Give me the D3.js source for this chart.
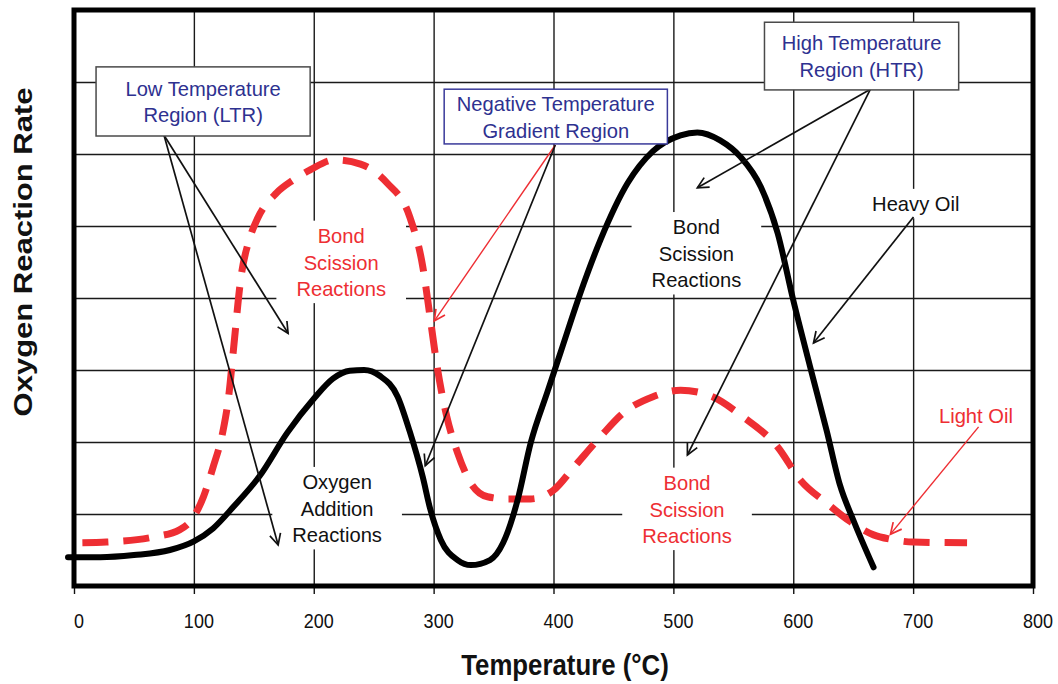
<!DOCTYPE html>
<html>
<head>
<meta charset="utf-8">
<script src="https://cdn.jsdelivr.net/npm/d3@7"></script>
<style>
  body { margin: 0; background: #fff; }
  svg { display: block; font-family: Arial, "Liberation Sans", sans-serif; }
</style>
</head>
<body>
<svg width="1058" height="684"></svg>
<script>
// axis values
var xTicks = [0, 100, 200, 300, 400, 500, 600, 700, 800];
var yGrid = [1, 2, 3, 4, 5, 6, 7];
var xTitle = 'Temperature (°C)';
var yTitle = 'Oxygen Reaction Rate';

// heavy oil curve (solid black)
var heavyTemp = [-5, 22, 50, 80, 100, 116, 133, 155, 178, 200, 216, 230, 242, 255, 270, 280, 291, 297, 306, 320, 331,
  347, 358, 370, 381, 395, 406, 422, 439, 462, 483, 506, 520, 539, 556, 573, 587, 600, 614, 628, 639, 650, 667];
var heavyRate = [0.40, 0.40, 0.43, 0.50, 0.62, 0.80, 1.10, 1.53, 2.13, 2.60, 2.88, 2.99, 3.00, 2.92, 2.63, 2.15, 1.51, 1.08, 0.64, 0.36, 0.29,
  0.36, 0.60, 1.19, 1.99, 2.70, 3.25, 4.05, 4.80, 5.60, 6.04, 6.26, 6.30, 6.19, 5.96, 5.54, 4.90, 3.97, 3.05, 2.15, 1.40, 0.92, 0.26];

// light oil curve (dashed red)
var lightTemp = [7, 27, 66, 88, 99, 108, 116, 124, 129, 133, 139, 147, 153, 169, 183, 197, 218, 239, 261, 280, 291, 297,
  303, 311, 320, 331, 345, 361, 381, 400, 417, 439, 458, 483, 506, 531, 558, 587, 606, 628, 648, 667, 681, 700, 745];
var lightRate = [0.60, 0.61, 0.68, 0.78, 0.94, 1.24, 1.65, 2.13, 2.63, 3.28, 4.25, 4.85, 5.10, 5.46, 5.64, 5.78, 5.92, 5.86, 5.60, 5.13, 4.43, 3.74,
  3.04, 2.35, 1.85, 1.43, 1.24, 1.21, 1.21, 1.33, 1.65, 2.07, 2.40, 2.63, 2.72, 2.64, 2.35, 1.93, 1.47, 1.15, 0.89, 0.71, 0.65, 0.61, 0.60];

// annotations, placed in data units
var boxes = [
  {lines: ['Low Temperature', 'Region (LTR)'], t0: 18.4, t1: 197, r0: 6.25, r1: 7.21, stroke: '#4a4a4a'},
  {lines: ['Negative Temperature', 'Gradient Region'], t0: 308.8, t1: 495, r0: 6.14, r1: 6.90, stroke: '#3a3a9a'},
  {lines: ['High Temperature', 'Region (HTR)'], t0: 576, t1: 738, r0: 6.89, r1: 7.83, stroke: '#4a4a4a'}
];
var notes = [
  {lines: ['Bond', 'Scission', 'Reactions'], t: 222.9, r: 4.50, color: '#ee2e33'},
  {lines: ['Bond', 'Scission', 'Reactions'], t: 519.2, r: 4.62, color: '#111'},
  {lines: ['Bond', 'Scission', 'Reactions'], t: 511.4, r: 1.07, color: '#ee2e33'},
  {lines: ['Oxygen', 'Addition', 'Reactions'], t: 219.5, r: 1.08, color: '#111'},
  {lines: ['Heavy Oil'], t: 702.2, r: 5.31, color: '#111'},
  {lines: ['Light Oil'], t: 752.4, r: 2.375, color: '#ee2e33'}
];
var arrows = [
  {from: [75.1, 6.26], to: [178.6, 3.51], color: 'black'},
  {from: [75.1, 6.26], to: [170.3, 0.57], color: 'black'},
  {from: [401.5, 6.125], to: [300.5, 3.68], color: 'red'},
  {from: [401.5, 6.125], to: [293, 1.67], color: 'black'},
  {from: [664.4, 6.90], to: [520, 5.53], color: 'black'},
  {from: [664.4, 6.90], to: [511.7, 1.82], color: 'black'},
  {from: [700.3, 5.125], to: [616.9, 3.375], color: 'black'},
  {from: [754.6, 2.21], to: [681.1, 0.72], color: 'red'}
];

var red = '#ee2e33';
var navy = '#2e3190';

var svg = d3.select('svg');

// scales
var x = d3.scaleLinear().domain([0, 800]).range([74, 1033]);
var y = d3.scaleLinear().domain([0, 8]).range([586, 10]);

var defs = svg.append('defs');
[['black', '#111'], ['red', red]].forEach(function(c) {
  defs.append('marker')
    .attr('id', 'arrow-' + c[0])
    .attr('viewBox', '-13 -7 15 14')
    .attr('refX', 0).attr('refY', 0)
    .attr('markerWidth', 15).attr('markerHeight', 14)
    .attr('markerUnits', 'userSpaceOnUse')
    .attr('orient', 'auto')
    .append('path')
    .attr('d', 'M-11,-5.5L0,0L-11,5.5')
    .attr('fill', 'none')
    .attr('stroke', c[1])
    .attr('stroke-width', 1.7);
});

// grid
svg.append('g')
  .attr('transform', 'translate(0,' + y(0) + ')')
  .call(d3.axisBottom(x).tickValues(xTicks.slice(1, -1)).tickSize(y(8) - y(0)).tickFormat(''))
  .call(function(g) { g.select('.domain').remove(); })
  .selectAll('line').attr('stroke', '#1a1a1a').attr('stroke-width', 1.4);

svg.append('g')
  .attr('transform', 'translate(' + x(0) + ',0)')
  .call(d3.axisLeft(y).tickValues(yGrid).tickSize(x(0) - x(800)).tickFormat(''))
  .call(function(g) { g.select('.domain').remove(); })
  .selectAll('line').attr('stroke', '#1a1a1a').attr('stroke-width', 1.4);

// small ticks under the axis
svg.append('g')
  .attr('transform', 'translate(0,' + y(0) + ')')
  .call(d3.axisBottom(x).tickValues(xTicks).tickSize(8).tickFormat(''))
  .call(function(g) { g.select('.domain').remove(); })
  .selectAll('line').attr('stroke', '#111').attr('stroke-width', 1.4);

// multi line text, squeezed a bit horizontally like the source
function addText(layer, lines, px, py, size, color, k, lead) {
  var g = layer.append('g').attr('transform', 'translate(' + [px, py] + ')');
  var text = g.append('text')
    .attr('transform', 'scale(' + k + ',1)')
    .attr('text-anchor', 'middle')
    .attr('font-size', size)
    .attr('fill', color);
  lines.forEach(function(s, i) {
    text.append('tspan')
      .attr('x', 0)
      .attr('y', (i - (lines.length - 1) / 2) * lead + size * 0.36)
      .text(s);
  });
  return {g: g, text: text};
}

// labels inside the plot, with white patches that break the grid
var labelLayer = svg.append('g');
notes.forEach(function(d) {
  var lab = addText(labelLayer, d.lines, x(d.t), y(d.r), 21, d.color, 0.96, 26.5);
  var bb = lab.text.node().getBBox();
  lab.g.insert('rect', 'text')
    .attr('x', bb.x * 0.96 - 20)
    .attr('y', bb.y - 3)
    .attr('width', bb.width * 0.96 + 40)
    .attr('height', bb.height + 6)
    .attr('fill', '#fff');
});

// curves
var line = d3.line()
  .x(function(d) { return x(d[0]); })
  .y(function(d) { return y(d[1]); })
  .curve(d3.curveMonotoneX);

svg.append('path')
  .attr('d', line(lightTemp.map(function(t, i) { return [t, lightRate[i]]; })))
  .attr('fill', 'none')
  .attr('stroke', red)
  .attr('stroke-width', 7)
  .attr('stroke-dasharray', '26,15');

svg.append('path')
  .attr('d', line(heavyTemp.map(function(t, i) { return [t, heavyRate[i]]; })))
  .attr('fill', 'none')
  .attr('stroke', '#000')
  .attr('stroke-width', 6)
  .attr('stroke-linecap', 'round')
  .attr('stroke-linejoin', 'round');

// arrows
svg.append('g').selectAll('line')
  .data(arrows)
  .join('line')
  .attr('x1', function(d) { return x(d.from[0]); })
  .attr('y1', function(d) { return y(d.from[1]); })
  .attr('x2', function(d) { return x(d.to[0]); })
  .attr('y2', function(d) { return y(d.to[1]); })
  .attr('stroke', function(d) { return d.color === 'red' ? red : '#111'; })
  .attr('stroke-width', function(d) { return d.color === 'red' ? 1.4 : 1.7; })
  .attr('marker-end', function(d) { return 'url(#arrow-' + d.color + ')'; });

// callout boxes
var boxLayer = svg.append('g');
boxes.forEach(function(d) {
  boxLayer.append('rect')
    .attr('x', x(d.t0))
    .attr('y', y(d.r1))
    .attr('width', x(d.t1) - x(d.t0))
    .attr('height', y(d.r0) - y(d.r1))
    .attr('fill', '#fff')
    .attr('stroke', d.stroke)
    .attr('stroke-width', 1.5);
  addText(boxLayer, d.lines, (x(d.t0) + x(d.t1)) / 2, (y(d.r0) + y(d.r1)) / 2, 21, navy, 0.96, 27);
});

// frame
svg.append('rect')
  .attr('x', x(0))
  .attr('y', y(8))
  .attr('width', x(800) - x(0))
  .attr('height', y(0) - y(8))
  .attr('fill', 'none')
  .attr('stroke', '#000')
  .attr('stroke-width', 5);

// tick labels
svg.append('g').selectAll('g')
  .data(xTicks)
  .join('g')
  .attr('transform', function(d) { return 'translate(' + (x(d) + 5) + ',628)'; })
  .append('text')
  .attr('transform', 'scale(0.9,1)')
  .attr('text-anchor', 'middle')
  .attr('font-size', 20)
  .attr('fill', '#111')
  .text(function(d) { return d; });

// axis titles
svg.append('text')
  .attr('transform', 'translate(565,675) scale(0.86,1)')
  .attr('text-anchor', 'middle')
  .attr('font-size', 30)
  .attr('font-weight', 'bold')
  .attr('fill', '#111')
  .text(xTitle);

svg.append('text')
  .attr('transform', 'translate(32,252) rotate(-90) scale(1,0.85)')
  .attr('text-anchor', 'middle')
  .attr('font-size', 31)
  .attr('font-weight', 'bold')
  .attr('fill', '#111')
  .text(yTitle);
</script>
</body>
</html>
